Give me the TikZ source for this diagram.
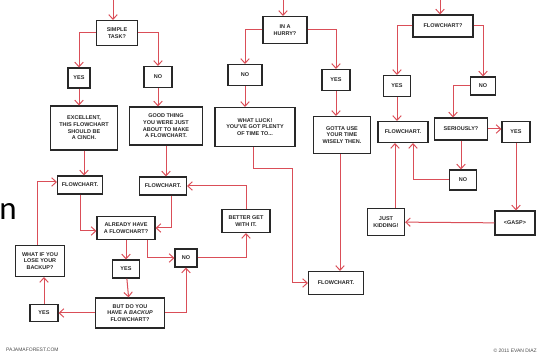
\documentclass[tikz,border=0pt]{standalone}
\usepackage{fontspec}
\setsansfont{Liberation Sans}
\newfontfamily\slidefont{Carlito}
\usetikzlibrary{arrows.meta,shadows}
\definecolor{linkred}{RGB}{218,78,88}
\definecolor{ink}{RGB}{40,40,40}

\begin{document}
\begin{tikzpicture}[x=1pt, y=-1pt,
	>={Straight Barb[length=4.5pt, width=8.5pt]},
	box/.style 2 args={draw=ink, line width=1.2pt, fill=white, drop shadow={shadow xshift=0.8pt, shadow yshift=-0.8pt, fill=black!40}, align=center, inner sep=1pt, text=ink, font=\sffamily\bfseries\fontsize{5.5}{6.6}\selectfont, minimum width=#1pt, minimum height=#2pt},
	link/.style={->, draw=linkred, line width=1pt},
	credit/.style={text=black!70, font=\sffamily\fontsize{5}{6}\selectfont, inner sep=0pt}]
	\useasboundingbox (0, 0) rectangle (542, 358);
	
	\coordinate (in-1) at (113, 0);
	\coordinate (in-2) at (283, 0);
	\coordinate (in-3) at (440, 0);
	
	\node[box={41}{25}] (simple) at (117, 33) {SIMPLE\\TASK?};
	\node[box={22}{20}] (yes-1) at (79, 78) {YES};
	\node[box={28}{21}] (no-1) at (158, 77) {NO};
	\node[box={67}{44}] (cinch) at (84, 128) {EXCELLENT,\\THIS FLOWCHART\\SHOULD BE\\A CINCH.};
	\node[box={73}{38}] (good) at (166, 126) {GOOD THING\\YOU WERE JUST\\ABOUT TO MAKE\\A FLOWCHART.};
	\node[box={45}{18}] (chart-1) at (80, 185) {FLOWCHART.};
	\node[box={47}{18}] (chart-2) at (163, 186) {FLOWCHART.};
	\node[box={58}{23}] (already) at (126, 228) {ALREADY HAVE\\A FLOWCHART?};
	\node[box={22}{18}] (no-2) at (186, 258) {NO};
	\node[box={48}{23}] (better) at (246, 221) {BETTER GET\\WITH IT.};
	\node[box={27}{18}] (yes-2) at (126, 269) {YES};
	\node[box={69}{30}] (backup) at (130, 313) {BUT DO YOU\\HAVE A \textit{BACKUP}\\FLOWCHART?};
	\node[box={28}{17}] (yes-3) at (44, 313) {YES};
	\node[box={49}{31}] (lose) at (40, 261) {WHAT IF YOU\\LOSE YOUR\\BACKUP?};
	
	\node[box={44}{27}] (hurry) at (285, 30) {IN A\\HURRY?};
	\node[box={34}{21}] (no-3) at (245, 75) {NO};
	\node[box={28}{21}] (yes-4) at (336, 80) {YES};
	\node[box={80}{39}] (luck) at (255, 127) {WHAT LUCK!\\YOU'VE GOT PLENTY\\OF TIME TO...};
	\node[box={57}{37}] (wisely) at (342, 135) {GOTTA USE\\YOUR TIME\\WISELY THEN.};
	\node[box={55}{23}] (chart-3) at (336, 283) {FLOWCHART.};
	
	\node[box={60}{22}] (ask) at (443, 26) {FLOWCHART?};
	\node[box={27}{21}] (yes-5) at (397, 86) {YES};
	\node[box={25}{18}] (no-5) at (483, 86) {NO};
	\node[box={50}{21}] (chart-4) at (403, 132) {FLOWCHART.};
	\node[box={53}{22}] (seriously) at (461, 129) {SERIOUSLY?};
	\node[box={28}{21}] (yes-6) at (516, 132) {YES};
	\node[box={27}{20}] (no-6) at (463, 180) {NO};
	\node[box={37}{27}] (kidding) at (386, 222) {JUST\\KIDDING!};
	\node[box={40}{24}] (gasp) at (515, 223) {<GASP>};
	
	\node[font=\slidefont\fontsize{33}{33}\selectfont, inner sep=0pt] (stray) at (8, 212) {n};
	\node[credit, anchor=west] (site) at (6, 350) {PAJAMAFOREST.COM};
	\node[credit, anchor=east] (author) at (537, 351) {© 2011 EVAN DIAZ};
	
	\draw[link] (in-1) -- (in-1 |- simple.north);
	\draw[link] (simple.west) -| (yes-1);
	\draw[link] (simple.east) -| (no-1);
	\draw[link] (yes-1) -- (yes-1 |- cinch.north);
	\draw[link] (no-1) -- (no-1 |- good.north);
	\draw[link] (cinch) -- (cinch |- chart-1.north);
	\draw[link] (good) -- (good |- chart-2.north);
	\draw[link] (chart-1.south) |- ([yshift=-3pt]already.west);
	\draw[link] ([xshift=8pt]chart-2.south) |- (already.east);
	\draw[link] (already) -- (yes-2);
	\draw[link] ([xshift=-8pt]already.south east) |- (no-2.west);
	\draw[link] (no-2.east) -| (better);
	\draw[link] (better.north) |- (chart-2.east);
	\draw[link] (yes-2) -- (backup);
	\draw[link] (backup.east) -| (no-2);
	\draw[link] (backup) -- (yes-3);
	\draw[link] (yes-3) -- (yes-3 |- lose.south);
	\draw[link] ([xshift=-3pt]lose.north) |- ([yshift=3pt]chart-1.west);
	
	\draw[link] (in-2) -- (in-2 |- hurry.north);
	\draw[link] (hurry.west) -| (no-3);
	\draw[link] (hurry.east) -| (yes-4);
	\draw[link] (no-3) -- (no-3 |- luck.north);
	\draw[link] (yes-4) -- (yes-4 |- wisely.north);
	\draw[link] ([xshift=-2pt]luck.south) -- ++(0, 21) -- ++(39, 0) |- (chart-3.west);
	\draw[link] ([xshift=-2pt]wisely.south) -- ([xshift=-2pt]wisely.south |- chart-3.north);
	
	\draw[link] (in-3) -- (in-3 |- ask.north);
	\draw[link] (ask.west) -| (yes-5);
	\draw[link] (ask.east) -| (no-5);
	\draw[link] (yes-5) -- (yes-5 |- chart-4.north);
	\draw[link] (no-5.west) -| ([xshift=-8pt]seriously.north);
	\draw[link] (seriously.east) -- (seriously.east -| yes-6.west);
	\draw[link] (seriously) -- (seriously |- no-6.north);
	\draw[link] (no-6.west) -| ([xshift=10pt]chart-4.south);
	\draw[link] (yes-6) -- (yes-6 |- gasp.north);
	\draw[link] (gasp) -- (kidding);
	\draw[link] ([xshift=9pt]kidding.north) -- ([xshift=9pt]kidding.north |- chart-4.south);
\end{tikzpicture}
\end{document}
